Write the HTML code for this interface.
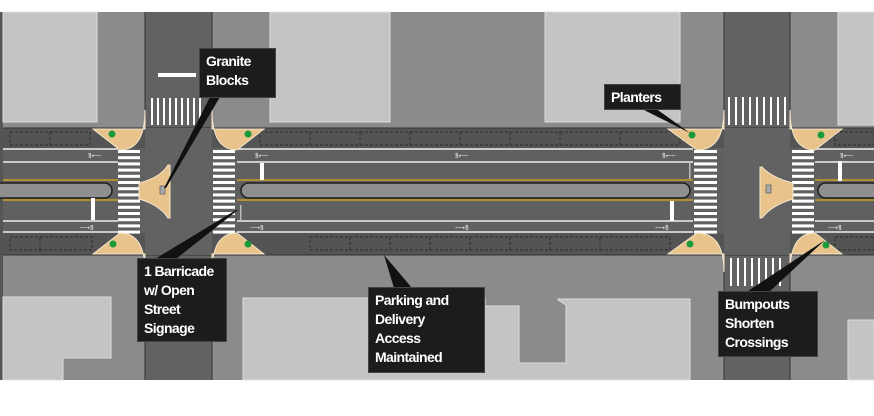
<!DOCTYPE html>
<html><head><meta charset="utf-8"><style>
html,body{margin:0;padding:0;background:#fff;width:874px;height:416px;overflow:hidden}
.lb{position:absolute;background:#1c1c1c;color:#fff;font-family:"Liberation Sans",sans-serif;font-weight:bold;font-size:14px;letter-spacing:-0.6px;line-height:19px;padding:3px 6px;box-sizing:border-box;border:1px solid #444;white-space:nowrap;overflow:hidden}
</style></head><body>
<svg width="874" height="416" style="position:absolute;left:0;top:0">
<rect x="0" y="12" width="874" height="368" fill="#8b8b8b"/>
<rect x="0" y="12" width="3" height="368" fill="#555"/>
<rect x="3" y="12" width="94" height="110" fill="#c4c4c4" stroke="#ddd"/>
<rect x="270" y="12" width="120" height="110" fill="#c4c4c4" stroke="#ddd"/>
<rect x="545" y="12" width="135" height="110" fill="#c4c4c4" stroke="#ddd"/>
<rect x="838" y="12" width="36" height="113" fill="#c4c4c4" stroke="#ddd"/>
<path d="M3,297 L111,297 L111,358 L63,358 L63,380 L3,380Z" fill="#c4c4c4" stroke="#ddd"/>
<path d="M243,298 L485,298 L485,306 L519,306 L519,363 L566,363 L566,305 L558,300 L558,299 L690,299 L690,380 L243,380Z" fill="#c4c4c4" stroke="#ddd"/>
<rect x="848" y="320" width="26" height="60" fill="#c4c4c4" stroke="#ddd"/>
<rect x="145" y="12" width="67" height="368" fill="#626262"/>
<rect x="724" y="12" width="66" height="368" fill="#626262"/>
<line x1="145" y1="12" x2="145" y2="380" stroke="#333"/>
<line x1="212" y1="12" x2="212" y2="380" stroke="#333"/>
<line x1="724" y1="12" x2="724" y2="380" stroke="#333"/>
<line x1="790" y1="12" x2="790" y2="380" stroke="#333"/>
<rect x="3" y="128" width="871" height="127" fill="#606060"/>
<rect x="3" y="128" width="871" height="20" fill="#545454"/>
<rect x="3" y="233" width="871" height="22" fill="#545454"/>
<line x1="3" y1="128" x2="874" y2="128" stroke="#333"/>
<line x1="3" y1="255" x2="874" y2="255" stroke="#333"/>
<rect x="145" y="128" width="67" height="127" fill="#626262"/>
<rect x="724" y="128" width="66" height="127" fill="#626262"/>
<g fill="none" stroke="#2c2c2c" stroke-dasharray="3,2">
<rect x="10" y="132" width="80" height="13"/><rect x="260" y="132" width="420" height="13"/><rect x="835" y="132" width="39" height="13"/>
<rect x="10" y="237" width="82" height="13"/><rect x="310" y="237" width="360" height="13"/><rect x="835" y="237" width="39" height="13"/>
</g>
<g stroke="#2c2c2c" stroke-dasharray="3,2">
<line x1="50" y1="132" x2="50" y2="145"/><line x1="310" y1="132" x2="310" y2="145"/><line x1="360" y1="132" x2="360" y2="145"/><line x1="410" y1="132" x2="410" y2="145"/><line x1="460" y1="132" x2="460" y2="145"/><line x1="510" y1="132" x2="510" y2="145"/><line x1="560" y1="132" x2="560" y2="145"/><line x1="620" y1="132" x2="620" y2="145"/>
<line x1="40" y1="237" x2="40" y2="250"/><line x1="350" y1="237" x2="350" y2="250"/><line x1="390" y1="237" x2="390" y2="250"/><line x1="430" y1="237" x2="430" y2="250"/><line x1="470" y1="237" x2="470" y2="250"/><line x1="510" y1="237" x2="510" y2="250"/><line x1="550" y1="237" x2="550" y2="250"/><line x1="600" y1="237" x2="600" y2="250"/>
</g>
<g stroke="#eee" stroke-width="1.5">
<line x1="3" y1="149" x2="118" y2="149"/><line x1="237" y1="149" x2="693" y2="149"/><line x1="815" y1="149" x2="874" y2="149"/>
<line x1="3" y1="162" x2="118" y2="162"/><line x1="237" y1="162" x2="693" y2="162"/><line x1="815" y1="162" x2="874" y2="162"/>
<line x1="3" y1="221" x2="118" y2="221"/><line x1="237" y1="221" x2="693" y2="221"/><line x1="815" y1="221" x2="874" y2="221"/>
<line x1="3" y1="232" x2="118" y2="232"/><line x1="237" y1="232" x2="693" y2="232"/><line x1="815" y1="232" x2="874" y2="232"/>
</g>
<g stroke="#c9a020" stroke-width="1.5">
<line x1="3" y1="180" x2="118" y2="180"/><line x1="237" y1="180" x2="693" y2="180"/><line x1="815" y1="180" x2="874" y2="180"/>
<line x1="3" y1="200" x2="118" y2="200"/><line x1="237" y1="200" x2="693" y2="200"/><line x1="815" y1="200" x2="874" y2="200"/>
</g>
<g fill="#8f8f8f" stroke="#1e1e1e" stroke-width="1.5">
<rect x="-10" y="183" width="122" height="15" rx="7.5"/>
<rect x="241" y="183" width="449" height="15" rx="7.5"/>
<rect x="818" y="183" width="70" height="15" rx="7.5"/>
</g>
<g fill="#fff">
<rect x="91" y="198" width="4" height="22"/><rect x="260" y="163" width="4" height="17"/>
<rect x="670" y="201" width="4" height="20"/><rect x="838" y="161" width="4" height="20"/>
<rect x="158" y="73" width="38" height="4"/>
</g>
<rect x="689" y="163" width="1.5" height="16" fill="#bbb"/>
<rect x="240" y="205" width="1.5" height="16" fill="#bbb"/>
<g fill="#fff" id="cw"></g>
<g fill="#fff">
<rect x="151" y="98" width="2" height="27"/><rect x="157" y="98" width="2" height="27"/><rect x="163" y="98" width="2" height="27"/><rect x="169" y="98" width="2" height="27"/><rect x="175" y="98" width="2" height="27"/><rect x="181" y="98" width="2" height="27"/><rect x="187" y="98" width="2" height="27"/><rect x="193" y="98" width="2" height="27"/><rect x="199" y="98" width="2" height="27"/>
<rect x="728" y="97" width="2" height="28"/><rect x="735" y="97" width="2" height="28"/><rect x="742" y="97" width="2" height="28"/><rect x="749" y="97" width="2" height="28"/><rect x="756" y="97" width="2" height="28"/><rect x="763" y="97" width="2" height="28"/><rect x="770" y="97" width="2" height="28"/><rect x="777" y="97" width="2" height="28"/><rect x="784" y="97" width="2" height="28"/>
<rect x="730" y="258" width="2" height="28"/><rect x="737" y="258" width="2" height="28"/><rect x="744" y="258" width="2" height="28"/><rect x="751" y="258" width="2" height="28"/><rect x="758" y="258" width="2" height="28"/><rect x="765" y="258" width="2" height="28"/><rect x="772" y="258" width="2" height="28"/><rect x="779" y="258" width="2" height="28"/>
</g>
<g fill="#e8c48c" stroke="#f3e6cc" stroke-width="1">
<path d="M93,129 L145,129 L145,110 Q145,150 120,150 Z"/>
<path d="M264,129 L212,129 L212,110 Q212,150 237,150 Z"/>
<path d="M668,129 L724,129 L724,110 Q724,150 697,150 Z"/>
<path d="M842,129 L790,129 L790,110 Q790,150 815,150 Z"/>
<path d="M93,254 L145,254 L145,272 Q145,233 120,233 Z"/>
<path d="M264,254 L212,254 L212,272 Q212,233 237,233 Z"/>
<path d="M668,254 L724,254 L724,272 Q724,233 697,233 Z"/>
<path d="M842,254 L790,254 L790,272 Q790,233 815,233 Z"/>
<path d="M139,183 Q160,178 168,165 L170,165 L170,218 L168,218 Q160,205 139,199 Z"/>
<path d="M793,183 Q772,178 762,167 L760,167 L760,218 L762,218 Q772,205 793,199 Z"/>
</g>
<rect x="160" y="186" width="5" height="8" fill="#aaa" stroke="#555" stroke-width=".7"/>
<rect x="766" y="185" width="5" height="8" fill="#aaa" stroke="#555" stroke-width=".7"/>
<g fill="#1a9a3a">
<circle cx="112" cy="134" r="3.5"/><circle cx="248" cy="134" r="3.5"/><circle cx="692" cy="135" r="3.5"/><circle cx="821" cy="135" r="3.5"/>
<circle cx="113" cy="244" r="3.5"/><circle cx="248" cy="244" r="3.5"/><circle cx="690" cy="244" r="3.5"/><circle cx="826" cy="245" r="3.5"/>
</g>
<g fill="#eee" font-family="Liberation Sans" font-size="7">
<text x="88" y="158">ꝸ⟵</text><text x="255" y="158">ꝸ⟵</text><text x="455" y="158">ꝸ⟵</text><text x="662" y="158">ꝸ⟵</text><text x="840" y="158">ꝸ⟵</text>
<text x="80" y="230">⟶ꝸ</text><text x="250" y="230">⟶ꝸ</text><text x="455" y="230">⟶ꝸ</text><text x="655" y="230">⟶ꝸ</text><text x="828" y="230">⟶ꝸ</text>
</g>
<g fill="#111">
<polygon points="210,97 220,97 166,188 164,188"/>
<polygon points="640,108 655,108 690,133"/>
<polygon points="150,262 172,262 238,210 236,210"/>
<polygon points="394,288 412,288 384,255"/>
<polygon points="745,293 768,293 825,240"/>
</g>
</svg>
<script>
(function(){var g=document.getElementById('cw'),s='';
function col(x,w){for(var y=150;y<232;y+=6.2)s+='<rect x="'+x+'" y="'+y.toFixed(1)+'" width="'+w+'" height="3"/>';}
col(118,22);col(213,22);col(694,23);col(792,22);g.innerHTML=s;})();
</script>
<div class="lb" style="left:199px;top:48px;width:77px;height:50px">Granite<br>Blocks</div>
<div class="lb" style="left:604px;top:84px;width:77px;height:26px">Planters</div>
<div class="lb" style="left:137px;top:258px;width:90px;height:84px">1 Barricade<br>w/ Open<br>Street<br>Signage</div>
<div class="lb" style="left:368px;top:287px;width:117px;height:86px">Parking and<br>Delivery<br>Access<br>Maintained</div>
<div class="lb" style="left:718px;top:291px;width:100px;height:66px">Bumpouts<br>Shorten<br>Crossings</div>
</body></html>
